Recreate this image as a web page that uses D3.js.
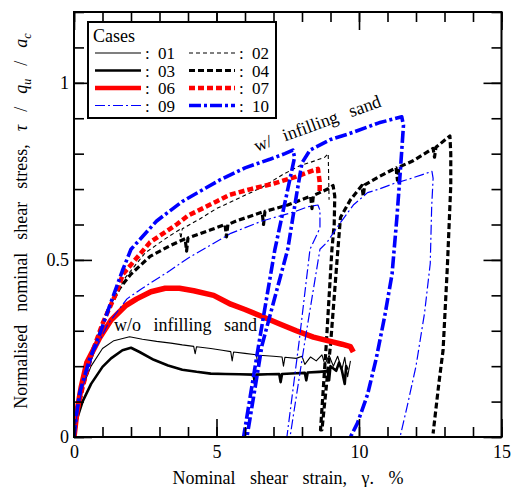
<!DOCTYPE html>
<html>
<head>
<meta charset="utf-8">
<script src="https://cdn.jsdelivr.net/npm/d3@7"></script>
<style>
  body { margin: 0; background: #fff; }
  svg, svg text { font-family: "Liberation Serif", "DejaVu Serif", serif; fill: #000; }
  .axis line { stroke: #000; stroke-width: 1.6; }
  .axis path { display: none; }
  .axis text { font-size: 18px; }
</style>
</head>
<body>
<svg id="chart"></svg>
<script>
// ---- data: [strain %, tau/qu/ac] ----
const caseIds = ['01', '02', '03', '04', '06', '07', '09', '10'];

const case01 = [[0,0],[0.1,0.07],[0.3,0.14],[0.6,0.2],[1.0,0.25],[1.4,0.272],[1.95,0.283],[2.4,0.276],[2.9,0.27],[3.4,0.265],
  [3.8,0.26],[4.2,0.256],[4.25,0.235],[4.3,0.255],[4.8,0.25],[5.2,0.245],[5.5,0.241],[5.55,0.215],[5.6,0.24],[6.0,0.236],
  [6.4,0.232],[6.45,0.205],[6.5,0.231],[7.0,0.228],[7.3,0.226],[7.35,0.2],[7.4,0.225],[7.8,0.222],[8.0,0.228],[8.1,0.205],
  [8.3,0.226],[8.5,0.215],[8.7,0.232],[8.8,0.205],[8.95,0.23],[9.1,0.2],[9.25,0.228],[9.4,0.19],[9.5,0.225],[9.6,0.17],[9.7,0.215]];

const case03 = [[0,0],[0.1,0.05],[0.3,0.1],[0.6,0.15],[1.0,0.198],[1.3,0.222],[1.7,0.245],[2.0,0.252],[2.3,0.24],[2.8,0.218],
  [3.3,0.202],[3.8,0.19],[4.3,0.184],[4.8,0.179],[5.3,0.178],[5.8,0.177],[6.3,0.176],[6.35,0.15],[6.4,0.176],[6.8,0.177],
  [7.2,0.178],[7.25,0.155],[7.3,0.178],[7.8,0.18],[8.1,0.181],[8.15,0.16],[8.2,0.182],[8.6,0.184],[8.9,0.186],[8.95,0.16],
  [9.0,0.2],[9.2,0.187],[9.3,0.21],[9.4,0.188],[9.5,0.15],[9.55,0.2],[9.6,0.19]];

const case06 = [[0,0],[0.1,0.07],[0.25,0.14],[0.45,0.21],[0.9,0.28],[1.3,0.33],[1.8,0.37],[2.2,0.39],[2.7,0.41],[3.2,0.42],
  [3.7,0.42],[4.2,0.413],[4.9,0.4],[5.5,0.375],[6.0,0.36],[6.6,0.34],[7.2,0.32],[7.8,0.3],[8.4,0.282],[9.0,0.27],
  [9.4,0.262],[9.7,0.255],[9.8,0.24]];

const case02 = [[0,0],[0.1,0.07],[0.3,0.14],[0.7,0.26],[1.2,0.36],[1.8,0.45],[2.5,0.52],[3.3,0.565],[3.7,0.585],[3.75,0.56],
  [3.8,0.588],[4.4,0.615],[5.0,0.645],[5.8,0.675],[6.6,0.705],[7.3,0.74],[7.9,0.765],[8.46,0.78],[8.8,0.79],[8.92,0.8],
  [8.95,0.67]];

const case04 = [[0,0],[0.1,0.06],[0.3,0.14],[0.7,0.25],[1.2,0.36],[1.6,0.42],[2.0,0.46],[2.67,0.51],[3.37,0.54],[3.9,0.56],
  [3.95,0.525],[4.0,0.562],[4.8,0.585],[5.3,0.6],[5.35,0.565],[5.4,0.6],[5.7,0.61],[6.6,0.635],[6.65,0.6],[6.7,0.637],
  [7.5,0.655],[8.3,0.68],[8.35,0.645],[8.4,0.682],[8.9,0.7],[9.09,0.71],[9.15,0.68],[9.13,0.6],[9.05,0.53],[8.85,0.26],
  [8.65,0.02],[8.7,0.02],[9.0,0.26],[9.26,0.53],[9.35,0.62],[9.7,0.67],[10.1,0.71],[10.15,0.68],[10.2,0.712],[10.7,0.735],
  [11.3,0.76],[11.35,0.725],[11.4,0.762],[11.9,0.78],[12.6,0.815],[12.65,0.79],[12.7,0.818],[13.19,0.85],[13.22,0.8],
  [13.22,0.71],[13.1,0.48],[12.95,0.245],[12.8,0.15],[12.6,0.01]];

const case07 = [[0,0],[0.1,0.07],[0.3,0.14],[0.6,0.23],[1.0,0.32],[1.5,0.41],[1.72,0.46],[2.67,0.55],[3.6,0.6],[4.0,0.625],
  [5.0,0.665],[5.47,0.684],[6.2,0.7],[6.98,0.715],[7.8,0.735],[8.3,0.75],[8.56,0.757],[8.62,0.72],[8.62,0.69]];

const case09 = [[0,0],[0.1,0.06],[0.3,0.14],[0.7,0.24],[1.2,0.32],[1.86,0.39],[2.4,0.42],[3.37,0.47],[4.0,0.505],[5.1,0.556],
  [5.5,0.575],[6.6,0.61],[7.7,0.635],[8.2,0.65],[8.56,0.655],[8.63,0.64],[8.63,0.59],[8.28,0.53],[7.9,0.27],[7.47,0],
  [7.58,0],[8.1,0.27],[8.63,0.53],[8.88,0.55],[9.3,0.6],[9.8,0.655],[10.3,0.69],[10.7,0.7],[11.2,0.715],[11.7,0.727],
  [12.2,0.74],[12.56,0.75],[12.6,0.73],[12.55,0.65],[12.5,0.49],[12.3,0.35],[12.0,0.2],[11.7,0.09],[11.44,0]];

const case10 = [[0,0],[0.1,0.07],[0.2,0.125],[0.55,0.22],[0.9,0.29],[1.25,0.37],[1.7,0.47],[2.0,0.53],[2.9,0.61],[3.8,0.665],
  [5.1,0.725],[6.0,0.76],[6.9,0.785],[7.4,0.8],[7.68,0.81],[7.74,0.79],[7.45,0.68],[7.05,0.53],[6.5,0.27],[5.95,0],
  [6.07,0],[6.6,0.26],[7.5,0.53],[7.8,0.68],[8.0,0.774],[8.28,0.81],[9.0,0.84],[9.6,0.855],[10.7,0.887],[11.5,0.904],
  [11.56,0.88],[11.45,0.75],[11.33,0.62],[11.16,0.46],[10.9,0.34],[10.6,0.22],[10.3,0.12],[9.95,0.04],[9.7,0]];

const xMajorTicks = [0, 5, 10, 15];
const yMajorTicks = [0, 0.5, 1];
const yTickLabels = ['0', '0.5', '1'];

// line styles per case
const caseStyles = {
  '01': {color: '#000', width: 1.1, dash: null},
  '02': {color: '#000', width: 1.1, dash: '4,3'},
  '03': {color: '#000', width: 2.6, dash: null},
  '04': {color: '#000', width: 3.2, dash: '6,3'},
  '06': {color: '#ff0000', width: 5.5, dash: null},
  '07': {color: '#ff0000', width: 4.5, dash: '6,3'},
  '09': {color: '#0000ff', width: 1.2, dash: '10,3,2,3'},
  '10': {color: '#0000ff', width: 3.6, dash: '12,3,3,3'}
};
const caseData = {'01': case01, '02': case02, '03': case03, '04': case04, '06': case06, '07': case07, '09': case09, '10': case10};

const serif = '"Liberation Serif", "DejaVu Serif", serif';
const margin = {top: 12, right: 11.5, bottom: 50, left: 74};
const W = 513, H = 487;
const width = W - margin.left - margin.right;
const height = H - margin.top - margin.bottom;

const svg = d3.select('#chart').attr('width', W).attr('height', H).attr('font-family', serif);
const chart = svg.append('g').attr('transform', `translate(${margin.left},${margin.top})`);

const x = d3.scaleLinear().domain([0, 15]).range([0, width]);
const y = d3.scaleLinear().domain([0, 1.2]).range([height, 0]);

chart.append('defs').append('clipPath').attr('id', 'clip')
  .append('rect').attr('width', width).attr('height', height);

// curves
const line = d3.line().x(d => x(d[0])).y(d => y(d[1]));
const curves = chart.append('g').attr('clip-path', 'url(#clip)');
caseIds.forEach(id => {
  const s = caseStyles[id];
  curves.append('path')
    .datum(caseData[id])
    .attr('fill', 'none')
    .attr('stroke', s.color)
    .attr('stroke-width', s.width)
    .attr('stroke-dasharray', s.dash)
    .attr('stroke-linejoin', 'round')
    .attr('d', line);
});

// ticks: minor + major, mirrored on all sides, pointing inward
const minorX = d3.range(0, 16);
const minorY = d3.range(0, 13).map(i => i / 10);
function addAxis(axis, tx, ty) {
  const g = chart.append('g').attr('class', 'axis')
    .attr('transform', `translate(${tx},${ty})`)
    .call(axis);
  g.attr('font-family', serif).attr('font-size', 18);
  return g;
}
addAxis(d3.axisBottom(x).tickValues(minorX).tickSize(-10).tickFormat(''), 0, height);
addAxis(d3.axisBottom(x).tickValues(xMajorTicks).tickSize(-18).tickPadding(8).tickFormat(d3.format('d')), 0, height);
addAxis(d3.axisTop(x).tickValues(minorX).tickSize(-10).tickFormat(''), 0, 0);
addAxis(d3.axisTop(x).tickValues(xMajorTicks).tickSize(-18).tickFormat(''), 0, 0);
addAxis(d3.axisLeft(y).tickValues(minorY).tickSize(-10).tickFormat(''), 0, 0);
addAxis(d3.axisLeft(y).tickValues(yMajorTicks).tickSize(-18).tickPadding(5).tickFormat((d, i) => yTickLabels[i]), 0, 0);
addAxis(d3.axisRight(y).tickValues(minorY).tickSize(-10).tickFormat(''), width, 0);
addAxis(d3.axisRight(y).tickValues(yMajorTicks).tickSize(-18).tickFormat(''), width, 0);

// frame
chart.append('rect').attr('width', width).attr('height', height)
  .attr('fill', 'none').attr('stroke', '#000').attr('stroke-width', 2);

// annotations
chart.append('text')
  .attr('transform', `translate(${x(1.4)},${y(0.3)})`)
  .style('font-size', '18px').style('word-spacing', '8px')
  .text('w/o infilling sand');
chart.append('text')
  .attr('transform', `translate(${x(6.4)},${y(0.805)}) rotate(-20)`)
  .style('font-size', '18px').style('word-spacing', '8px')
  .text('w/ infilling sand');

// axis titles
svg.append('text')
  .attr('x', 288).attr('y', 484)
  .attr('text-anchor', 'middle')
  .style('font-size', '18px').style('word-spacing', '10px')
  .text('Nominal shear strain, γ. %');

const yt = svg.append('text')
  .attr('transform', `translate(27,221) rotate(-90)`)
  .attr('text-anchor', 'middle')
  .style('font-size', '18px').style('word-spacing', '8.5px');
yt.append('tspan').text('Normalised nominal shear stress, ');
yt.append('tspan').style('font-style', 'italic').text('τ');
yt.append('tspan').text(' / ');
yt.append('tspan').style('font-style', 'italic').text('q');
yt.append('tspan').style('font-style', 'italic').style('font-size', '12px').attr('dy', 4).text('u');
yt.append('tspan').attr('dy', -4).text(' / ');
yt.append('tspan').style('font-style', 'italic').text('a');
yt.append('tspan').style('font-style', 'italic').style('font-size', '12px').attr('dy', 4).text('c');

// legend
const legend = svg.append('g').attr('transform', 'translate(88,22)');
legend.append('rect').attr('width', 188).attr('height', 96)
  .attr('fill', '#fff').attr('stroke', '#000').attr('stroke-width', 2);
legend.append('text').attr('x', 5).attr('y', 20).style('font-size', '18px').text('Cases');
caseIds.forEach((id, i) => {
  const s = caseStyles[id];
  const col = i % 2, row = Math.floor(i / 2);
  const g = legend.append('g').attr('transform', `translate(${7 + col * 94},${31 + row * 17.5})`);
  g.append('line').attr('x1', 0).attr('x2', 46)
    .attr('stroke', s.color).attr('stroke-width', Math.min(s.width, 4.5))
    .attr('stroke-dasharray', s.dash);
  g.append('text').attr('x', 50).attr('y', 6).style('font-size', '17px').text(':');
  g.append('text').attr('x', 63).attr('y', 6).style('font-size', '17px').text(id);
});
</script>
</body>
</html>
